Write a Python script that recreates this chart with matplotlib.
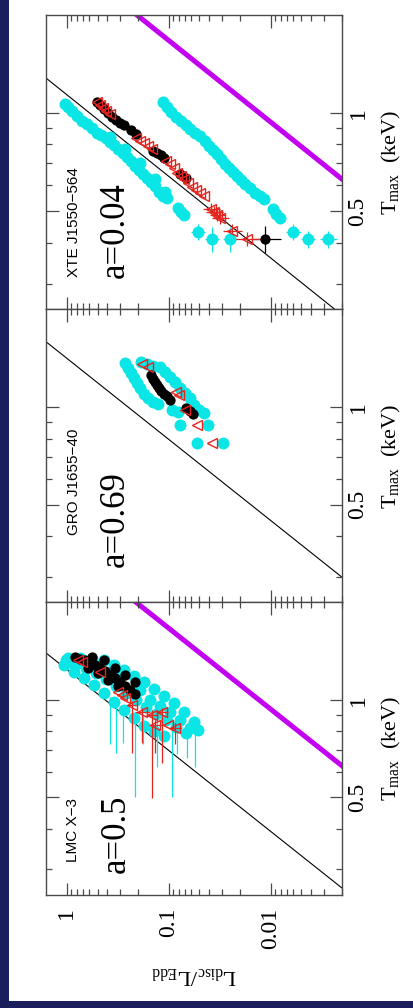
"""L_disc/L_Edd vs T_max for three black-hole binaries (rotated layout)"""
import matplotlib
matplotlib.use('Agg')
import matplotlib.pyplot as plt
import matplotlib.patches as mpatches
from matplotlib.ticker import FixedLocator, FixedFormatter, LogLocator, NullFormatter
import numpy as np

plt.rcParams['font.family'] = ['Liberation Serif', 'DejaVu Serif']
plt.rcParams['mathtext.fontset'] = 'custom'
plt.rcParams['mathtext.rm'] = 'Liberation Serif'
plt.rcParams['mathtext.it'] = 'Liberation Serif:italic'

NAVY = '#1b1e5c'
CYAN = '#0ae6e6'
RED = '#e3241f'
MAGENTA = '#c400f2'
FRAME = '#4a4a4a'
MS_CYAN, MS_BLACK, MS_RED = 8.6, 7.4, 7.2

# ── data: luminosity (L/LEdd) and peak disc temperature (keV) ──────────
# XTE J1550-564
xte_cyan_L = [1.05, 0.978, 0.893, 0.798, 0.713, 0.637, 0.569, 0.508, 0.464, 0.415,
              0.379, 0.346, 0.316, 0.282, 0.258, 0.236, 0.215, 0.197, 0.180, 0.164,
              0.150, 0.137, 0.125, 0.1145, 0.1047, 0.0816, 0.0763, 0.0713,
              0.379, 0.270, 0.192, 0.137, 0.1095,
              0.1145, 0.1047, 0.0956, 0.0854, 0.0763, 0.0681, 0.0622, 0.0556, 0.0497, 0.0444,
              0.0405, 0.0370, 0.0338, 0.0309, 0.0282, 0.0258, 0.0236, 0.0215, 0.0197, 0.0180,
              0.0161, 0.0144, 0.0128, 0.0117, 0.00956, 0.00893, 0.00816]
xte_cyan_T = [1.066, 1.044, 1.014, 0.979, 0.945, 0.925, 0.899, 0.868, 0.856, 0.838,
              0.814, 0.797, 0.774, 0.753, 0.732, 0.711, 0.686, 0.667, 0.648, 0.630,
              0.612, 0.595, 0.574, 0.558, 0.547, 0.513, 0.498, 0.485,
              0.843, 0.774, 0.701, 0.626, 0.574,
              1.08, 1.044, 1.007, 0.972, 0.945, 0.918, 0.893, 0.868, 0.849, 0.820,
              0.791, 0.769, 0.747, 0.721, 0.696, 0.677, 0.658, 0.639, 0.621, 0.604,
              0.587, 0.570, 0.555, 0.543, 0.509, 0.491, 0.478]
xte_cyan_err_L = [0.0520, 0.0379, 0.0252, 0.00608, 0.00434, 0.00276]
xte_cyan_err_T = [0.432, 0.411, 0.411, 0.432, 0.411, 0.411]
xte_cyan_err_dL = [0.008, 0.006, 0.004, 0.0010, 0.0007, 0.0005]
xte_cyan_err_dT = [0.025, 0.035, 0.035, 0.025, 0.025, 0.025]

xte_black_L = [0.508, 0.475, 0.434, 0.397, 0.362, 0.331, 0.302, 0.276, 0.236, 0.211,
               0.1435, 0.131, 0.120, 0.112, 0.0780, 0.0681]
xte_black_T = [1.08, 1.059, 1.029, 1.0, 0.972, 0.952, 0.932, 0.918, 0.886, 0.862,
               0.764, 0.753, 0.742, 0.727, 0.648, 0.630]
xte_black_err_L = [0.0114]
xte_black_err_T = [0.411]
xte_black_err_dL = [0.0035]
xte_black_err_dT = [0.04]

xte_red_L = [0.508, 0.475, 0.444, 0.415, 0.379, 0.211, 0.192, 0.176, 0.161, 0.147,
             0.107, 0.0978, 0.0893, 0.0835, 0.0763, 0.0713, 0.0651, 0.0595, 0.0544,
             0.0497, 0.0454]
xte_red_T = [1.08, 1.059, 1.036, 1.014, 0.993, 0.838, 0.820, 0.808, 0.791, 0.774,
             0.711, 0.696, 0.677, 0.653, 0.639, 0.626, 0.608, 0.591, 0.579,
             0.567, 0.555]
xte_red_err_L = [0.0387, 0.0362, 0.0338, 0.0316, 0.0241, 0.0172]
xte_red_err_T = [0.509, 0.498, 0.488, 0.478, 0.436, 0.411]
xte_red_err_dL = [0.007, 0.007, 0.006, 0.006, 0.005, 0.006]
xte_red_err_dT = [0.02, 0.02, 0.02, 0.02, 0.02, 0.02]

# GRO J1655-40
gro_cyan_L = [0.270, 0.252, 0.236, 0.220, 0.206, 0.192, 0.176, 0.161, 0.1435, 0.128,
              0.188, 0.164, 0.1435, 0.1225, 0.1095, 0.0978, 0.0873, 0.0780, 0.0697, 0.0622,
              0.0569, 0.0508, 0.0454, 0.0935, 0.0816, 0.0780, 0.0415, 0.0532, 0.0296]
gro_cyan_T = [1.367, 1.319, 1.274, 1.229, 1.186, 1.145, 1.097, 1.066, 1.036, 1.022,
              1.377, 1.358, 1.339, 1.329, 1.282, 1.238, 1.195, 1.145, 1.105, 1.066,
              1.014, 0.979, 0.958, 0.979, 0.965, 0.880, 0.880, 0.774, 0.774]
gro_black_L = [0.150, 0.1435, 0.137, 0.131, 0.125, 0.120, 0.112, 0.1047, 0.0978,
               0.0681, 0.0622, 0.0582]
gro_black_T = [1.256, 1.220, 1.195, 1.169, 1.145, 1.121, 1.097, 1.081, 1.051,
               0.993, 0.972, 0.952]
gro_red_L = [0.184, 0.161, 0.0854, 0.0798, 0.0697, 0.0532, 0.0379]
gro_red_T = [1.358, 1.329, 1.113, 1.089, 0.979, 0.880, 0.774]

# LMC X-3
lmc_cyan_L = [0.978, 0.746, 0.569, 0.434, 0.346, 0.276, 0.220, 0.176, 0.140, 0.112,
              0.0893, 0.0713, 0.0569, 0.0520,
              1.02, 0.816, 0.651, 0.520, 0.415, 0.331, 0.264, 0.211, 0.168, 0.134,
              0.107, 0.0854, 0.0681,
              1.07, 0.854, 0.681, 0.544, 0.434, 0.346, 0.276, 0.220, 0.176, 0.140, 0.112,
              0.893, 0.666, 0.497, 0.302, 0.192, 0.154, 0.1225, 0.0978, 0.0780, 0.0622]
lmc_cyan_T = [1.348, 1.348, 1.339, 1.329, 1.283, 1.238, 1.186, 1.137, 1.081, 1.029,
              0.979, 0.918, 0.856, 0.808,
              1.329, 1.292, 1.255, 1.212, 1.161, 1.105, 1.051, 1.0, 0.952, 0.906,
              0.868, 0.825, 0.791,
              1.283, 1.220, 1.169, 1.113, 1.051, 0.986, 0.932, 0.880, 0.831, 0.802, 0.774,
              1.310, 1.292, 1.274, 1.186, 1.074, 1.0, 0.958, 0.918, 0.868, 0.820]
lmc_cyan_err_L = [0.379, 0.331, 0.282, 0.215, 0.180, 0.131, 0.0935, 0.0835, 0.0666, 0.0556]
lmc_cyan_err_T = [0.99, 0.965, 0.932, 0.88, 0.86, 0.87, 0.85, 0.83, 0.80, 0.82]
lmc_cyan_err_lo = [0.26, 0.28, 0.195, 0.38, 0.13, 0.25, 0.35, 0.15, 0.14, 0.20]
lmc_cyan_err_hi = [0.03, 0.03, 0.03, 0.03, 0.03, 0.03, 0.03, 0.03, 0.03, 0.03]

lmc_black_L = [0.835, 0.746, 0.666, 0.595, 0.532, 0.475, 0.424, 0.379, 0.338, 0.302,
               0.270, 0.241, 0.215, 0.622, 0.497, 0.397, 0.316, 0.569, 0.434, 0.338,
               0.270, 0.215]
lmc_black_T = [1.358, 1.339, 1.329, 1.310, 1.283, 1.255, 1.229, 1.195, 1.169, 1.137,
               1.105, 1.074, 1.044, 1.255, 1.212, 1.153, 1.105, 1.358, 1.329, 1.255,
               1.195, 1.137]

lmc_red_L = [0.780, 0.713, 0.475, 0.316, 0.289, 0.270, 0.231, 0.184, 0.147, 0.137,
             0.117, 0.1023, 0.0873]
lmc_red_T = [1.329, 1.310, 1.220, 1.059, 1.036, 1.014, 0.965, 0.918, 0.899, 0.837,
             0.918, 0.837, 0.820]
lmc_red_err_L = [0.231, 0.147, 0.184, 0.117, 0.0873, 0.137]
lmc_red_err_T = [0.965, 0.899, 0.918, 0.918, 0.82, 0.837]
lmc_red_err_lo = [0.28, 0.40, 0.18, 0.28, 0.09, 0.15]
lmc_red_err_hi = [0.03, 0.03, 0.03, 0.03, 0.03, 0.03]
lmc_red_err_dL = [0.02, 0.02, 0.03, 0.015, 0.012, 0.02]

# L = c * T^4 constant-radius relations
c_disc = {'xte': 0.6, 'gro': 0.25, 'lmc': 0.42}
c_limit = 0.013
t_range = np.array([0.2, 3.0])

# panel geometry (fig fraction): left, bottom, width, height
left, width = 46 / 414, 296 / 414
panel_rect = {
    'lmc': [left, 0.1121, width, 0.2902],
    'gro': [left, 0.4023, width, 0.2907],
    'xte': [left, 0.6930, width, 0.2926],
}

fig = plt.figure(figsize=(4.14, 10.08), dpi=100, facecolor=NAVY)
fig.patches.append(mpatches.Rectangle((9 / 414, 7 / 1008), 1, 1, transform=fig.transFigure,
                                      facecolor='white', edgecolor='none', zorder=-10))


def setup(ax, bottom=False):
    ax.set_xscale('log')
    ax.set_yscale('log')
    ax.set_xlim(1.6, 0.002)
    ax.set_ylim(0.25, 2.0)
    ax.xaxis.set_major_locator(FixedLocator([1, 0.1, 0.01]))
    ax.xaxis.set_major_formatter(FixedFormatter(['1', '0.1', '0.01']))
    ax.xaxis.set_minor_locator(LogLocator(subs=np.arange(2, 10)))
    ax.xaxis.set_minor_formatter(NullFormatter())
    ax.yaxis.set_major_locator(FixedLocator([0.5, 1]))
    ax.yaxis.set_major_formatter(FixedFormatter(['0.5', '1']))
    ax.yaxis.set_minor_locator(FixedLocator([0.3, 0.4, 0.6, 0.7, 0.8, 0.9]))
    ax.yaxis.set_minor_formatter(NullFormatter())
    ax.tick_params(which='both', direction='in', top=True, bottom=True, left=True, right=True,
                   color=FRAME, width=0.9, labelleft=False, labelright=True,
                   labelbottom=bottom, labelsize=17)
    ax.tick_params(which='major', length=9)
    ax.tick_params(which='minor', length=4.5)
    ax.tick_params(axis='y', pad=4)
    ax.tick_params(axis='x', pad=9)
    for lab in ax.get_yticklabels():
        lab.set_rotation(90)
        lab.set_va('center')
    for lab in ax.get_xticklabels():
        lab.set_rotation(90)
        lab.set_va('top')
    for sp in ax.spines.values():
        sp.set_color(FRAME)
        sp.set_linewidth(1.0)
    ax.yaxis.set_label_position('right')
    ax.set_ylabel(r'T$_{\rm max}$  (keV)', fontsize=16, rotation=90, labelpad=8)
    if bottom:
        ax.set_xlabel(r'L$_{\rm disc}$/L$_{\rm Edd}$', fontsize=16, rotation=180, labelpad=12)


def err_points(ax, L, T, dL, dT, color, lw=0.9):
    ax.errorbar(L, T, xerr=dL, yerr=dT, fmt='none', ecolor=color, elinewidth=lw,
                capsize=0, zorder=2)


def draw_panel(key, name, spin, name_pos, spin_pos, cyan, black, red, extras, limit=True):
    ax = fig.add_axes(panel_rect[key])
    setup(ax, bottom=(key == 'lmc'))
    ax.plot(c_disc[key] * t_range**4, t_range, color='black', lw=0.8, zorder=1)
    if limit:
        ax.plot(c_limit * t_range**4, t_range, color=MAGENTA, lw=3.6, zorder=1,
                solid_capstyle='butt')
    extras(ax)
    ax.plot(cyan[0], cyan[1], 'o', color=CYAN, ms=MS_CYAN, mew=0, zorder=3)
    ax.plot(black[0], black[1], 'o', color='black', ms=MS_BLACK, mew=0, zorder=4)
    ax.plot(red[0], red[1], '<', mfc='none', mec=RED, ms=MS_RED, mew=1.0, zorder=5)
    ax.text(name_pos[0], name_pos[1], name, transform=ax.transAxes, rotation=90,
            ha='center', va='bottom', fontsize=11,
            family=['Liberation Sans', 'DejaVu Sans'])
    ax.text(spin_pos[0], spin_pos[1], spin, transform=ax.transAxes, rotation=90,
            ha='center', va='bottom', fontsize=25)
    return ax


def xte_extras(ax):
    err_points(ax, xte_cyan_err_L, xte_cyan_err_T, xte_cyan_err_dL, xte_cyan_err_dT, CYAN)
    ax.plot(xte_cyan_err_L, xte_cyan_err_T, 'o', color=CYAN, ms=MS_CYAN, mew=0, zorder=3)
    err_points(ax, xte_black_err_L, xte_black_err_T, xte_black_err_dL, xte_black_err_dT, 'black')
    ax.plot(xte_black_err_L, xte_black_err_T, 'o', color='black', ms=MS_BLACK, mew=0, zorder=4)
    err_points(ax, xte_red_err_L, xte_red_err_T, xte_red_err_dL, xte_red_err_dT, RED)
    ax.plot(xte_red_err_L, xte_red_err_T, '<', mfc='none', mec=RED, ms=MS_RED, mew=1.0, zorder=5)


def gro_extras(ax):
    pass


def lmc_extras(ax):
    ax.errorbar(lmc_cyan_err_L, lmc_cyan_err_T, yerr=[lmc_cyan_err_lo, lmc_cyan_err_hi],
                fmt='none', ecolor=CYAN, elinewidth=0.9, capsize=0, zorder=2)
    ax.errorbar(lmc_red_err_L, lmc_red_err_T, xerr=lmc_red_err_dL,
                yerr=[lmc_red_err_lo, lmc_red_err_hi],
                fmt='none', ecolor=RED, elinewidth=0.9, capsize=0, zorder=3.5)


draw_panel('xte', 'XTE J1550\u2212564', 'a=0.04', (0.093, 0.110), (0.233, 0.107),
           (xte_cyan_L, xte_cyan_T), (xte_black_L, xte_black_T), (xte_red_L, xte_red_T),
           xte_extras)
draw_panel('gro', 'GRO J1655\u221240', 'a=0.69', (0.096, 0.230), (0.233, 0.121),
           (gro_cyan_L, gro_cyan_T), (gro_black_L, gro_black_T), (gro_red_L, gro_red_T),
           gro_extras, limit=False)
draw_panel('lmc', 'LMC X\u22123', 'a=0.5', (0.091, 0.113), (0.236, 0.075),
           (lmc_cyan_L, lmc_cyan_T), (lmc_black_L, lmc_black_T), (lmc_red_L, lmc_red_T),
           lmc_extras)

plt.savefig('out.png', dpi=100, facecolor=NAVY)
plt.close()
print('saved: out.png')
